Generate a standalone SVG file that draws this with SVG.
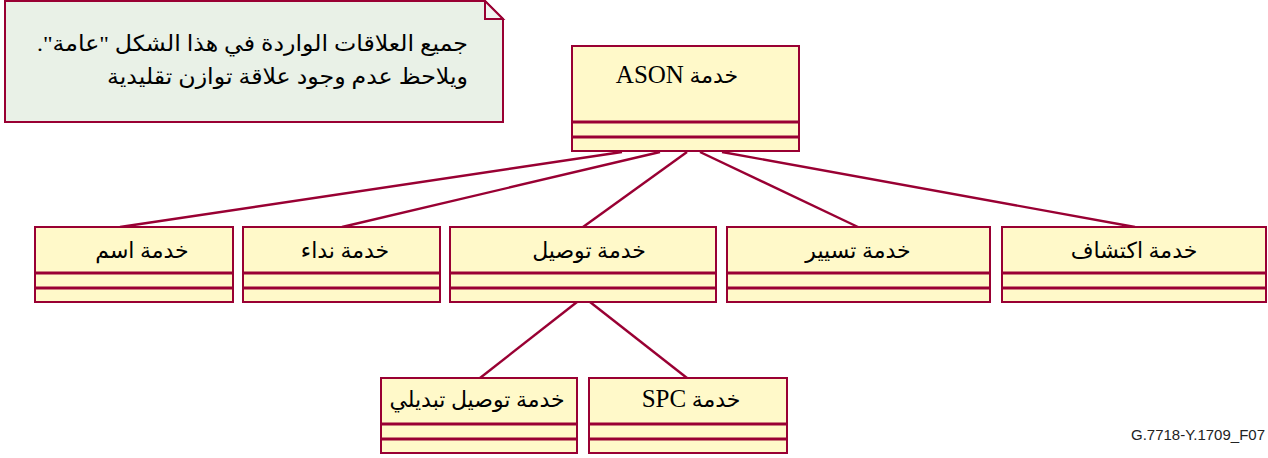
<svg xmlns="http://www.w3.org/2000/svg" width="1268" height="458" viewBox="0 0 1268 458">
  <style>
    .box { fill: #FFF9C9; stroke: #990033; stroke-width: 2; }
    .sep { stroke: #990033; stroke-width: 3; }
    .link { stroke: #990033; stroke-width: 2.4; fill: none; }
    .note { fill: #E9F1E7; stroke: #990033; stroke-width: 2; }
    .fold { fill: #F1F4F1; stroke: #990033; stroke-width: 2; }
    .lbl { font-family: 'Liberation Serif', 'DejaVu Sans', serif; font-size: 22px; fill: #000; direction: rtl; unicode-bidi: embed; text-anchor: middle; }
    .lat { font-family: 'Liberation Serif', serif; font-size: 25px; }
    .ntxt { font-family: 'Liberation Serif', 'DejaVu Sans', serif; font-size: 22px; fill: #000; direction: rtl; unicode-bidi: embed; text-anchor: start; }
    .ref { font-family: 'Liberation Sans', Arial, sans-serif; font-size: 15px; fill: #222; text-anchor: end; }
  </style>

  <!-- comment note -->
  <g id="note">
    <path class="note" d="M5,1 H485 L503,19 V122 H5 Z"/>
    <path class="fold" d="M485,1 V19 H503 Z"/>
    <text class="ntxt" x="468" y="51" textLength="431" lengthAdjust="spacingAndGlyphs">جميع العلاقات الواردة في هذا الشكل "عامة".</text>
    <text class="ntxt" x="468" y="84" textLength="361" lengthAdjust="spacingAndGlyphs">ويلاحظ عدم وجود علاقة توازن تقليدية</text>
  </g>

  <!-- generalisation links -->
  <g id="connectors">
    <line class="link" x1="622" y1="152" x2="120" y2="227"/>
    <line class="link" x1="660" y1="152" x2="342" y2="227"/>
    <line class="link" x1="687" y1="152" x2="583" y2="227"/>
    <line class="link" x1="700" y1="152" x2="858" y2="227"/>
    <line class="link" x1="722" y1="152" x2="1135" y2="227"/>
    <line class="link" x1="577" y1="302" x2="480" y2="378"/>
    <line class="link" x1="590" y1="302" x2="687" y2="378"/>
  </g>

  <!-- ASON service -->
  <g id="ason">
    <rect class="box" x="572" y="46" width="227" height="105"/>
    <line class="sep" x1="572" y1="122" x2="799" y2="122"/>
    <line class="sep" x1="572" y1="137" x2="799" y2="137"/>
    <text class="lbl" x="677" y="83">خدمة <tspan class="lat">ASON</tspan></text>
  </g>

  <g id="naming">
    <rect class="box" x="35" y="227" width="198" height="75"/>
    <line class="sep" x1="35" y1="273" x2="233" y2="273"/>
    <line class="sep" x1="35" y1="288" x2="233" y2="288"/>
    <text class="lbl" x="142" y="258">خدمة اسم</text>
  </g>

  <g id="call">
    <rect class="box" x="243" y="227" width="197" height="75"/>
    <line class="sep" x1="243" y1="273" x2="440" y2="273"/>
    <line class="sep" x1="243" y1="288" x2="440" y2="288"/>
    <text class="lbl" x="345" y="258">خدمة نداء</text>
  </g>

  <g id="connection">
    <rect class="box" x="450" y="227" width="266" height="75"/>
    <line class="sep" x1="450" y1="273" x2="716" y2="273"/>
    <line class="sep" x1="450" y1="288" x2="716" y2="288"/>
    <text class="lbl" x="589" y="258">خدمة توصيل</text>
  </g>

  <g id="routing">
    <rect class="box" x="727" y="227" width="263" height="75"/>
    <line class="sep" x1="727" y1="273" x2="990" y2="273"/>
    <line class="sep" x1="727" y1="288" x2="990" y2="288"/>
    <text class="lbl" x="858" y="258">خدمة تسيير</text>
  </g>

  <g id="discovery">
    <rect class="box" x="1002" y="227" width="264" height="75"/>
    <line class="sep" x1="1002" y1="273" x2="1266" y2="273"/>
    <line class="sep" x1="1002" y1="288" x2="1266" y2="288"/>
    <text class="lbl" x="1134" y="258">خدمة اكتشاف</text>
  </g>

  <g id="switched">
    <rect class="box" x="381" y="378" width="196" height="75"/>
    <line class="sep" x1="381" y1="424" x2="577" y2="424"/>
    <line class="sep" x1="381" y1="439" x2="577" y2="439"/>
    <text class="lbl" x="477" y="407">خدمة توصيل تبديلي</text>
  </g>

  <g id="spc">
    <rect class="box" x="589" y="378" width="198" height="75"/>
    <line class="sep" x1="589" y1="424" x2="787" y2="424"/>
    <line class="sep" x1="589" y1="439" x2="787" y2="439"/>
    <text class="lbl" x="691" y="407">خدمة <tspan class="lat">SPC</tspan></text>
  </g>

  <text class="ref" x="1265" y="440">G.7718-Y.1709_F07</text>
</svg>
